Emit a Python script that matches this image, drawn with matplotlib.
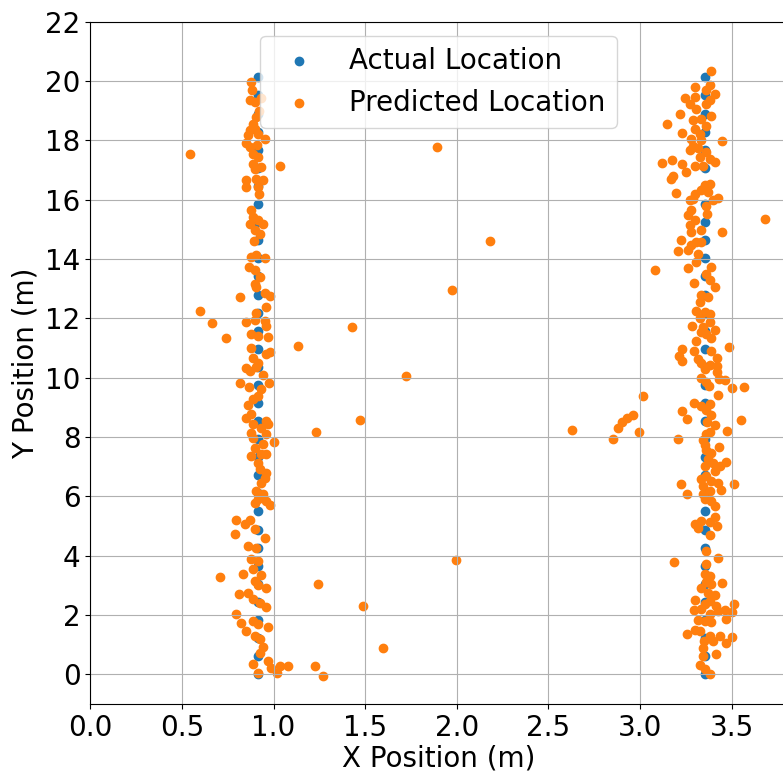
import matplotlib
matplotlib.use("Agg")
import matplotlib.pyplot as plt

# actual test points: two walking lines, 2 ft steps
actual_x = [0.9144] * 34 + [3.3528] * 34
actual_y = [0.00, 0.61, 1.22, 1.83, 2.44, 3.05, 3.66, 4.27, 4.88, 5.49,
            6.10, 6.71, 7.32, 7.92, 8.53, 9.14, 9.75, 10.36, 10.97, 11.58,
            12.19, 12.80, 13.41, 14.02, 14.63, 15.24, 15.85, 16.46, 17.07, 17.68,
            18.29, 18.90, 19.51, 20.12] * 2

# predicted points, left line
pred_left = [
    (0.878, 19.97), (0.884, 19.69), (0.869, 19.35), (0.896, 19.29), (0.933, 19.44),
    (0.920, 18.99), (0.905, 18.79), (0.887, 18.56), (0.869, 18.34), (0.896, 18.39),
    (0.860, 18.17), (0.915, 18.22), (0.951, 18.03), (0.851, 17.91), (0.909, 17.83),
    (0.869, 17.78), (0.887, 17.55), (0.915, 17.44), (1.033, 17.15), (0.887, 17.21),
    (0.933, 17.10), (0.896, 17.04), (0.847, 16.65), (0.847, 16.43), (0.905, 16.71),
    (0.942, 16.67), (0.915, 16.43), (0.920, 16.20), (0.878, 15.64), (0.887, 15.42),
    (0.869, 15.19), (0.915, 15.30), (0.942, 15.17), (0.896, 14.97), (0.924, 14.85),
    (0.891, 14.61), (0.878, 14.07), (0.905, 14.12), (0.951, 14.03), (0.865, 13.73),
    (0.896, 13.62), (0.924, 13.39),
    (0.896, 13.15), (0.905, 13.04), (0.951, 12.87), (0.978, 12.75), (0.818, 12.73),
    (0.596, 12.25), (0.960, 12.38), (0.905, 12.19), (0.665, 11.85), (0.851, 11.89),
    (0.896, 11.93), (0.951, 11.91), (0.960, 11.74), (0.878, 11.46), (0.915, 11.40),
    (0.742, 11.33), (0.969, 11.37), (1.133, 11.07), (0.878, 11.01), (0.960, 10.81),
    (0.978, 10.88), (0.887, 10.67), (0.915, 10.51), (0.851, 10.31), (0.869, 10.22),
    (0.905, 10.36), (0.942, 10.09), (0.818, 9.83), (0.865, 9.69), (0.975, 9.83),
    (0.933, 9.61), (0.915, 9.38), (0.887, 9.27), (0.860, 9.08), (0.878, 8.76),
    (0.851, 8.63), (0.887, 8.43), (0.960, 8.54), (0.969, 8.45), (0.933, 8.31),
    (0.878, 8.15), (0.960, 8.11), (1.229, 8.18), (0.887, 7.98), (1.000, 7.84),
    (0.942, 7.78), (0.896, 7.64), (0.878, 7.36), (0.933, 7.42), (0.960, 7.42),
    (0.915, 7.13), (0.924, 6.91), (0.960, 6.80), (0.951, 6.63), (0.933, 6.46),
    (0.905, 6.18), (0.942, 6.07), (0.915, 5.90), (0.960, 5.84), (0.978, 5.71),
    (0.896, 5.79), (0.796, 5.22), (0.842, 5.06), (0.869, 5.19), (0.896, 4.89),
    (0.787, 4.72), (0.951, 4.61),
    (0.860, 4.33), (0.905, 4.27), (0.878, 3.88), (0.915, 3.82), (0.709, 3.28),
    (0.833, 3.39), (0.887, 3.54), (0.933, 3.35), (0.896, 3.15), (0.960, 2.92),
    (0.915, 3.01), (0.811, 2.72), (0.860, 2.75), (0.887, 2.53), (0.924, 2.42),
    (0.960, 2.27), (0.796, 2.04), (0.824, 1.74), (0.887, 1.80), (0.915, 1.69),
    (0.969, 1.60), (0.851, 1.46), (0.896, 1.29), (0.924, 1.18), (0.942, 0.92),
    (0.924, 0.73), (0.887, 0.36), (0.969, 0.45), (0.987, 0.22), (1.033, 0.28),
    (1.078, 0.28), (1.018, 0.06), (1.224, 0.28), (0.915, 0.06), (1.242, 3.03),
]

# predicted points, right line
pred_right = [
    (3.390, 20.34), (3.299, 19.80), (3.381, 19.85), (3.363, 19.69), (3.408, 19.55),
    (3.244, 19.44), (3.299, 19.46), (3.381, 19.35), (3.271, 19.24), (3.363, 19.24),
    (3.308, 19.07), (3.216, 18.88), (3.335, 18.73), (3.390, 18.81), (3.289, 18.67),
    (3.148, 18.56), (3.363, 18.47), (3.299, 18.39), (3.229, 18.25), (3.326, 18.22),
    (3.280, 18.06), (3.335, 18.02), (3.449, 17.97), (3.289, 17.80), (3.317, 17.75),
    (3.271, 17.66), (3.363, 17.61), (3.176, 17.35), (3.119, 17.24), (3.227, 17.21),
    (3.326, 17.44), (3.381, 17.38), (3.408, 17.27), (3.299, 17.12), (3.344, 17.12),
    (3.253, 16.93), (3.180, 16.79), (3.170, 16.71), (3.353, 16.48), (3.381, 16.52),
    (3.335, 16.34), (3.372, 16.26), (3.198, 16.22), (3.299, 16.20), (3.289, 16.03),
    (3.271, 15.98), (3.399, 15.98), (3.427, 16.07), (3.363, 15.78), (3.280, 15.64),
    (3.262, 15.47), (3.366, 15.53), (3.680, 15.34), (3.299, 15.30), (3.271, 15.16),
    (3.335, 14.99), (3.280, 14.91), (3.449, 14.91), (3.222, 14.63), (3.308, 14.57),
    (3.335, 14.57), (3.280, 14.46), (3.207, 14.26), (3.262, 14.29), (3.317, 14.18),
    (3.308, 13.90), (3.084, 13.62), (3.262, 13.71), (3.390, 13.73), (3.363, 13.51),
    (3.381, 13.28), (3.293, 13.19), (3.408, 13.06), (3.335, 12.78), (3.372, 12.72),
    (3.326, 12.54), (3.308, 12.26), (3.353, 12.20), (3.381, 12.15), (3.326, 12.01),
    (3.381, 11.87), (3.284, 11.75), (3.344, 11.70), (3.408, 11.61), (3.335, 11.53),
    (3.363, 11.47), (3.390, 11.34), (3.304, 11.22), (3.487, 11.04), (3.231, 10.97),
    (3.295, 10.91), (3.390, 10.91), (3.212, 10.74), (3.229, 10.57), (3.421, 10.66),
    (3.317, 10.63), (3.335, 10.48), (3.381, 10.44), (3.421, 10.40), (3.353, 10.29),
    (3.421, 10.18), (3.335, 9.99), (3.432, 9.96), (3.463, 9.92), (3.363, 9.84),
    (3.376, 9.73), (3.500, 9.64), (3.570, 9.70), (3.015, 9.38), (3.427, 9.42),
    (2.960, 8.75), (3.293, 9.13), (3.335, 9.06), (3.381, 9.11), (3.231, 8.87),
    (3.359, 8.91), (3.386, 8.74), (3.256, 8.61), (3.366, 8.49), (3.551, 8.58),
    (3.408, 8.42), (2.993, 8.18), (3.473, 8.21), (3.363, 8.10), (3.381, 8.16),
    (3.207, 7.93), (3.344, 7.90), (3.353, 7.74), (3.363, 7.56), (3.432, 7.65),
    (3.390, 7.45), (3.372, 7.26), (3.467, 7.17), (3.399, 7.11), (3.353, 7.03),
    (3.436, 7.03), (3.408, 6.87), (3.363, 6.70), (3.332, 6.58), (3.390, 6.51),
    (3.427, 6.44), (3.513, 6.42), (3.222, 6.42), (3.344, 6.36), (3.381, 6.17),
    (3.445, 6.22), (3.258, 6.08), (3.344, 6.08), (3.353, 5.91), (3.390, 5.85),
    (3.408, 5.69), (3.299, 5.07), (3.335, 5.18), (3.408, 5.31), (3.381, 5.12),
    (3.421, 5.01), (3.317, 4.93),
    (3.381, 4.70), (3.363, 4.16), (3.427, 3.93), (3.183, 3.79), (3.363, 3.71),
    (3.353, 3.37), (3.381, 3.31), (3.363, 3.12), (3.450, 3.08), (3.390, 3.03),
    (3.335, 2.90), (3.372, 2.75), (3.408, 2.67), (3.299, 2.51), (3.381, 2.47),
    (3.513, 2.38), (3.353, 2.36), (3.417, 2.30), (3.293, 2.16), (3.335, 2.22),
    (3.427, 2.13), (3.463, 2.16), (3.500, 2.11), (3.381, 2.04), (3.472, 1.85),
    (3.317, 1.82), (3.353, 1.80), (3.390, 1.78), (3.299, 1.48), (3.326, 1.46),
    (3.256, 1.35), (3.381, 1.29), (3.436, 1.31), (3.500, 1.26), (3.399, 1.12),
    (3.348, 1.12), (3.469, 1.07), (3.344, 0.90), (3.414, 0.70), (3.344, 0.62),
    (3.326, 0.31), (3.353, 0.17), (3.381, 0.00),
]

# stray predictions in the middle of the room
pred_stray = [
    (0.544, 17.55), (1.428, 11.72), (1.471, 8.59), (1.894, 17.76), (1.974, 12.97),
    (2.181, 14.59), (1.722, 10.07), (1.996, 3.87), (1.488, 2.30), (1.597, 0.88),
    (1.270, -0.07), (2.630, 8.22), (2.850, 7.92), (2.880, 8.32), (2.900, 8.52),
    (2.930, 8.63),
]

pred = pred_left + pred_right + pred_stray
pred_x = [p[0] for p in pred]
pred_y = [p[1] for p in pred]

plt.rcParams["font.size"] = 20
fig = plt.figure(figsize=(7.83, 7.72), dpi=100)
ax = fig.add_axes([0.1155, 0.088, 0.889, 0.884])

ax.scatter(actual_x, actual_y, label="Actual Location")
ax.scatter(pred_x, pred_y, label="Predicted Location")

ax.set_xlim(0, 3.8)
ax.set_ylim(-1, 22)
ax.set_xticks([0.0, 0.5, 1.0, 1.5, 2.0, 2.5, 3.0, 3.5])
ax.set_yticks(range(0, 23, 2))
ax.set_xlabel("X Position (m)", labelpad=2)
ax.set_ylabel("Y Position (m)", labelpad=4)
ax.grid(True)
ax.legend(loc="upper center")

fig.savefig("out.png", dpi=100)
